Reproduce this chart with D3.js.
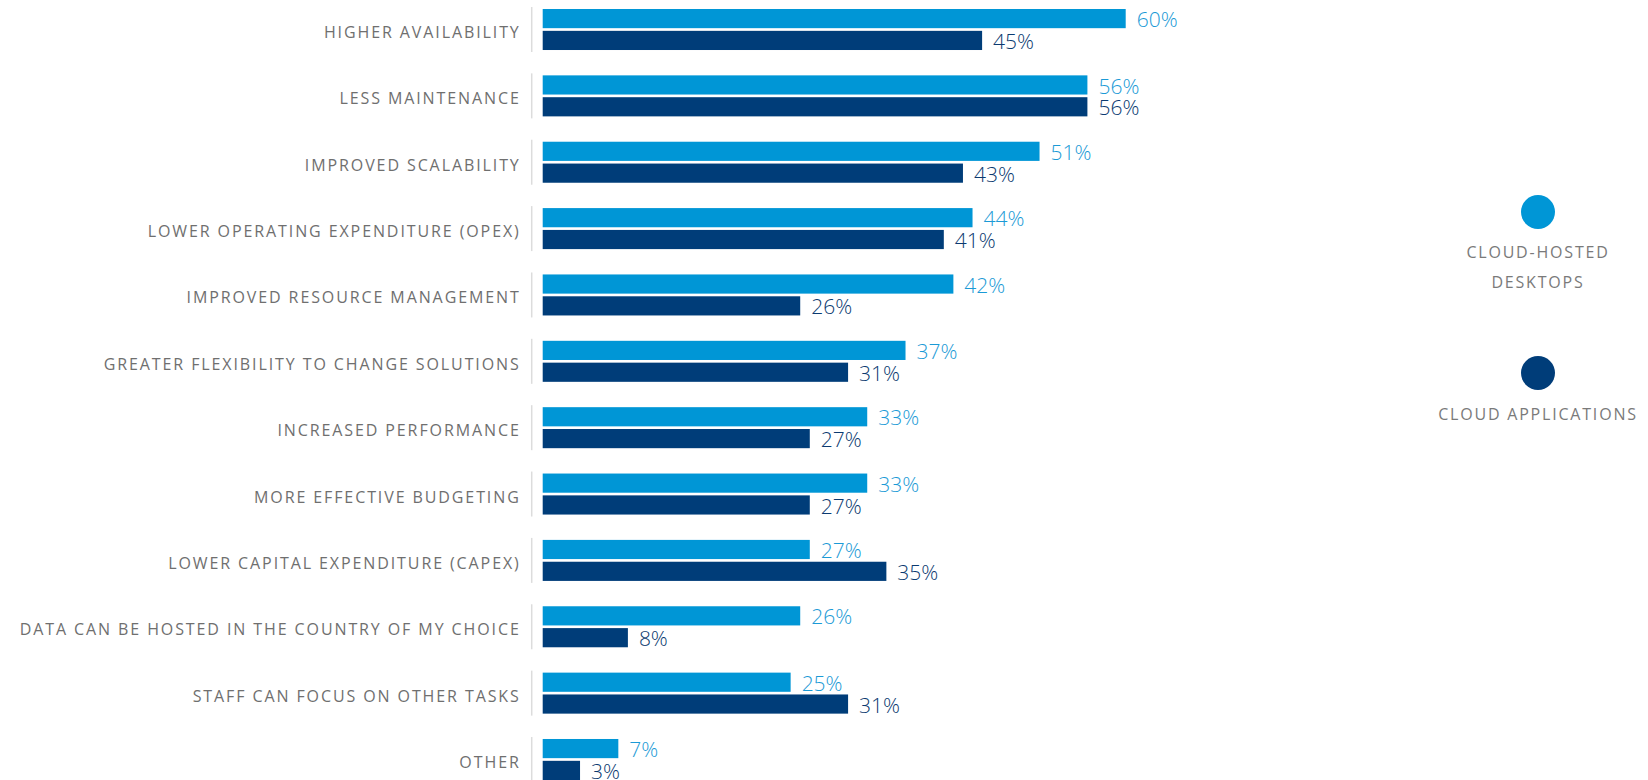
<!DOCTYPE html>
<html>
<head>
<meta charset="utf-8">
<script src="https://cdn.jsdelivr.net/npm/d3@7"></script>
<style>
  body { margin: 0; background: #fff; }
  text { font-family: "Open Sans", sans-serif; }
</style>
</head>
<body>
<div id="chart"></div>
<script>
'use strict';

var categories = [
  'HIGHER AVAILABILITY',
  'LESS MAINTENANCE',
  'IMPROVED SCALABILITY',
  'LOWER OPERATING EXPENDITURE (OPEX)',
  'IMPROVED RESOURCE MANAGEMENT',
  'GREATER FLEXIBILITY TO CHANGE SOLUTIONS',
  'INCREASED PERFORMANCE',
  'MORE EFFECTIVE BUDGETING',
  'LOWER CAPITAL EXPENDITURE (CAPEX)',
  'DATA CAN BE HOSTED IN THE COUNTRY OF MY CHOICE',
  'STAFF CAN FOCUS ON OTHER TASKS',
  'OTHER'
];
var desktops = [60, 56, 51, 44, 42, 37, 33, 33, 27, 26, 25, 7];
var apps = [45, 56, 43, 41, 26, 31, 27, 27, 35, 8, 31, 3];
var seriesNames = ['desktops', 'apps'];
var legendLabels = [['CLOUD-HOSTED', 'DESKTOPS'], ['CLOUD APPLICATIONS']];
var colors = {desktops: '#0096d6', apps: '#003d79'};
var labelColors = {desktops: '#1b9ad6', apps: '#0b3a70'};

var myApp = {};
myApp.w = 1648;
myApp.h = 780;
myApp.barX = 542.7;

myApp.run = function() {
  var svg = d3.select('#chart').append('svg')
    .attr('width', myApp.w)
    .attr('height', myApp.h);

  var rows = categories.map(function(c, i) {
    return {cat: c, desktops: desktops[i], apps: apps[i]};
  });

  var y0 = d3.scaleBand()
    .domain(categories)
    .range([9, 780])
    .paddingInner(0.382)
    .paddingOuter(0);

  var y1 = d3.scaleBand()
    .domain(seriesNames)
    .range([0, y0.bandwidth()])
    .paddingInner(0.122);

  // bar lengths; small offset at zero like in the original
  var x = d3.scaleLinear()
    .domain([-0.9, 60])
    .range([0, 583]);

  var g = svg.append('g')
    .attr('transform', 'translate(' + myApp.barX + ',0)');

  var row = g.selectAll('g.row')
    .data(rows)
    .enter()
    .append('g')
    .attr('class', 'row')
    .attr('transform', function(d) { return 'translate(0,' + y0(d.cat) + ')'; });

  // divider line
  row.append('line')
    .attr('x1', -11).attr('x2', -11)
    .attr('y1', -2).attr('y2', y0.bandwidth() + 2)
    .style('stroke', '#dcdcdc')
    .style('stroke-width', 1.5);

  // category labels
  row.append('text')
    .attr('x', -22)
    .attr('y', y0.bandwidth() / 2 + 8.5)
    .attr('text-anchor', 'end')
    .style('font-size', '16px')
    .style('letter-spacing', '1.9px')
    .style('fill', '#6f6f6f')
    .text(function(d) { return d.cat; });

  seriesNames.forEach(function(s) {
    row.append('rect')
      .attr('x', 0)
      .attr('y', y1(s))
      .attr('width', function(d) { return x(d[s]); })
      .attr('height', y1.bandwidth())
      .style('fill', colors[s]);

    row.append('text')
      .attr('x', function(d) { return x(d[s]) + 11; })
      .attr('y', y1(s) + y1.bandwidth() - 1)
      .style('font-size', '21px')
      .style('font-weight', 300)
      .style('fill', labelColors[s])
      .text(function(d) { return d[s] + '%'; });
  });

  // legend
  var legY = [212, 373];
  var legTextY = [[258, 287.5], [420]];
  seriesNames.forEach(function(s, i) {
    svg.append('circle')
      .attr('cx', 1538)
      .attr('cy', legY[i])
      .attr('r', 17)
      .style('fill', colors[s]);

    legendLabels[i].forEach(function(t, j) {
      svg.append('text')
        .attr('x', 1538)
        .attr('y', legTextY[i][j])
        .attr('text-anchor', 'middle')
        .style('font-size', '16px')
        .style('letter-spacing', '1.8px')
        .style('fill', '#7a7a7a')
        .text(t);
    });
  });
};

myApp.run();
</script>
</body>
</html>
